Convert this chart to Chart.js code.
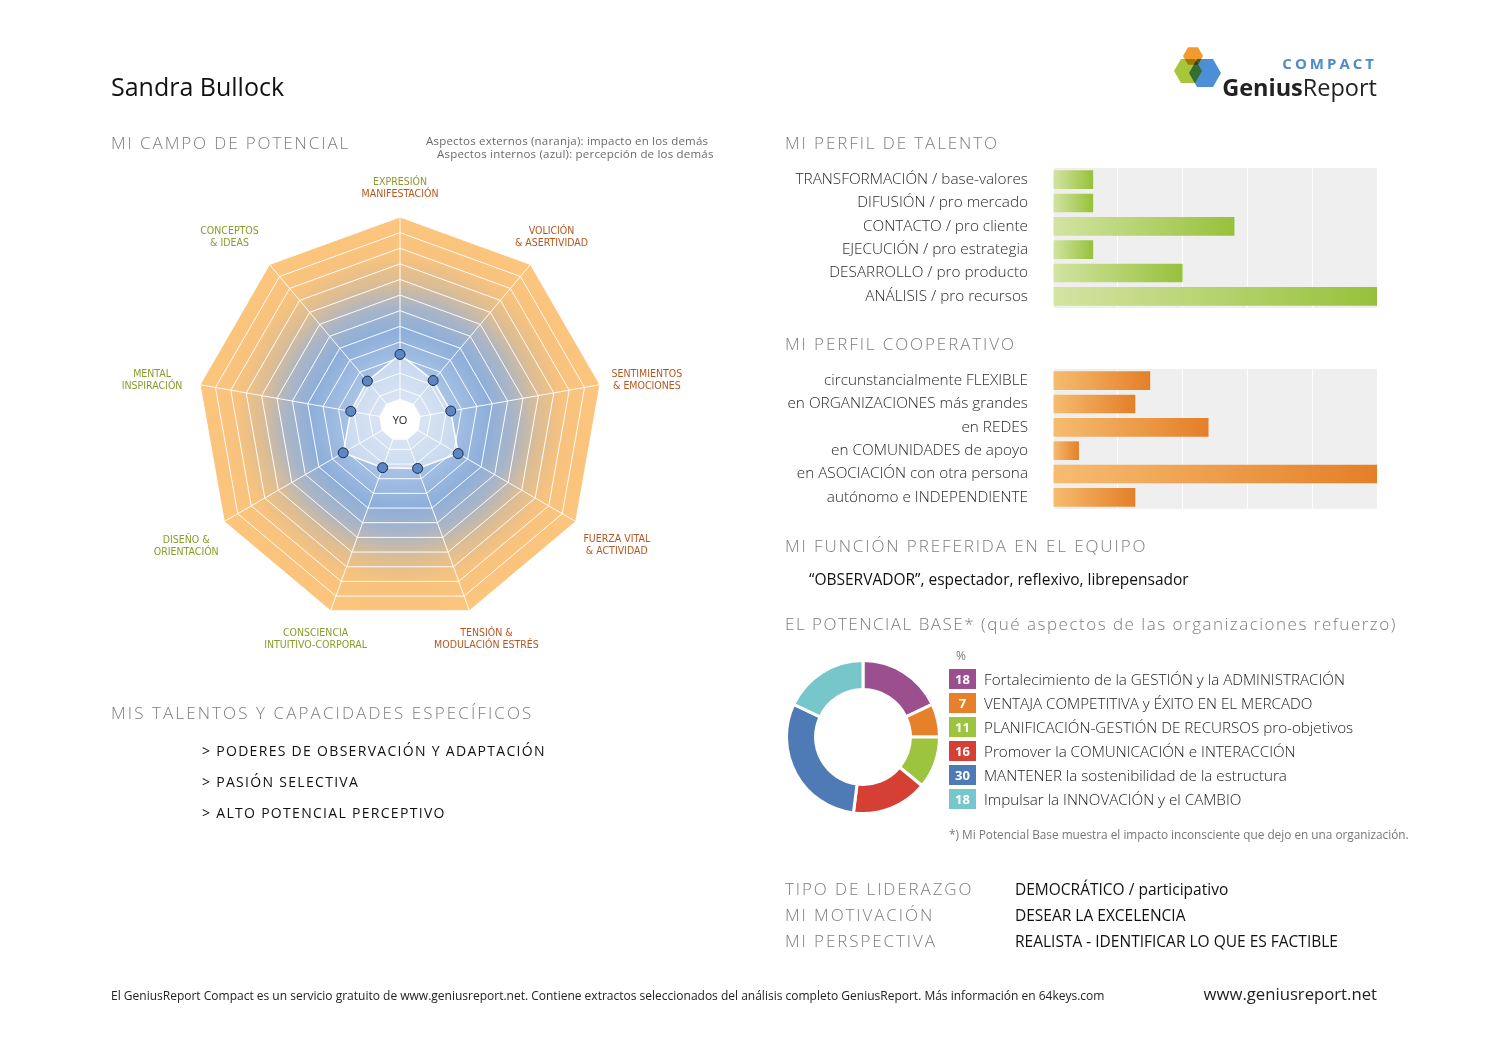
<!DOCTYPE html>
<html lang="es">
<head>
<meta charset="utf-8">
<title>GeniusReport Compact - Sandra Bullock</title>
<script src="https://cdn.jsdelivr.net/npm/chart.js@4.4.1/dist/chart.umd.min.js"></script>
<style>
  html, body { margin: 0; padding: 0; background: #fff; }
  body { width: 1497px; height: 1058px; position: relative; overflow: hidden; font-family: 'Open Sans', sans-serif; color: #222; }
  .abs { position: absolute; white-space: nowrap; }
  canvas { position: absolute; }
  .head { font-size: 17px; line-height: 20px; letter-spacing: 1.9px; color: #7d7d7d; font-weight: 300; }
  .note { font-size: 11.5px; line-height: 13px; color: #6a6a6a; letter-spacing: 0.2px; }
  .talent { font-size: 14px; line-height: 20px; letter-spacing: 1.3px; color: #111; left: 202px; }
  .value { font-size: 15.5px; line-height: 20px; color: #111; left: 1015px; }
  .legend-row { position: absolute; left: 949px; height: 20px; display: flex; align-items: center; }
  .legend-box { width: 27px; height: 20px; color: #fff; font-weight: 700; font-size: 13px; text-align: center; line-height: 20px; }
  .legend-text { margin-left: 8px; font-size: 15.2px; color: #222; font-weight: 300; white-space: nowrap; }
</style>
</head>
<body>

<!-- header -->
<div class="abs" style="left:111px; top:71px; font-size:25px; line-height:30px; color:#111;">Sandra Bullock</div>
<svg class="abs" style="left:1170px; top:42px;" width="56" height="52" viewBox="0 0 56 52">
  <g style="isolation:isolate">
    <polygon points="33,14 28,22.7 18,22.7 13,14 18,5.3 28,5.3" fill="#f29a2e" style="mix-blend-mode:multiply"/>
    <polygon points="32,29 25,41.1 11,41.1 4,29 11,16.9 25,16.9" fill="#a8c63a" style="mix-blend-mode:multiply"/>
    <polygon points="51,31 43,44.9 27,44.9 19,31 27,17.1 43,17.1" fill="#4d8fd7" style="mix-blend-mode:multiply"/>
  </g>
</svg>
<div class="abs" style="right:120px; top:54px; font-size:15px; line-height:18px; font-weight:700; letter-spacing:3px; color:#4f8ac9;">COMPACT</div>
<div class="abs" style="right:120px; top:73px; font-size:23.5px; line-height:28px; color:#222;"><b>Genius</b>Report</div>

<!-- left column -->
<div class="abs head" style="left:111px; top:133px;">MI CAMPO DE POTENCIAL</div>
<div class="abs note" style="left:426px; top:134px;">Aspectos externos (naranja): impacto en los demás</div>
<div class="abs note" style="left:437px; top:147px;">Aspectos internos (azul): percepción de los demás</div>
<canvas id="chart-radar" width="640" height="520" style="left:80px; top:160px;"></canvas>

<div class="abs head" style="left:111px; top:703px; letter-spacing:2.1px;">MIS TALENTOS Y CAPACIDADES ESPECÍFICOS</div>
<div class="abs talent" style="top:741px;">&gt; PODERES DE OBSERVACIÓN Y ADAPTACIÓN</div>
<div class="abs talent" style="top:772px;">&gt; PASIÓN SELECTIVA</div>
<div class="abs talent" style="top:803px;">&gt; ALTO POTENCIAL PERCEPTIVO</div>

<!-- right column -->
<div class="abs head" style="left:785px; top:133px;">MI PERFIL DE TALENTO</div>
<canvas id="chart-talent" width="597" height="140" style="left:780px; top:168px;"></canvas>

<div class="abs head" style="left:785px; top:334px;">MI PERFIL COOPERATIVO</div>
<canvas id="chart-coop" width="597" height="140" style="left:780px; top:369px;"></canvas>

<div class="abs head" style="left:785px; top:536px;">MI FUNCIÓN PREFERIDA EN EL EQUIPO</div>
<div class="abs" style="left:809px; top:569px; font-size:15.5px; line-height:20px; color:#111;">“OBSERVADOR”, espectador, reflexivo, librepensador</div>

<div class="abs head" style="left:785px; top:614px; letter-spacing:1.5px;">EL POTENCIAL BASE* (qué aspectos de las organizaciones refuerzo)</div>
<canvas id="chart-base" width="156" height="156" style="left:785px; top:659px;"></canvas>
<div class="abs" style="left:956px; top:648px; font-size:12px; line-height:16px; color:#777;">%</div>
<div id="base-legend"></div>
<div class="abs" style="left:949px; top:827px; font-size:11.8px; line-height:14px; color:#777;">*) Mi Potencial Base muestra el impacto inconsciente que dejo en una organización.</div>

<div class="abs head" style="left:785px; top:879px;">TIPO DE LIDERAZGO</div>
<div class="abs value" style="top:879px;">DEMOCRÁTICO / participativo</div>
<div class="abs head" style="left:785px; top:905px;">MI MOTIVACIÓN</div>
<div class="abs value" style="top:905px;">DESEAR LA EXCELENCIA</div>
<div class="abs head" style="left:785px; top:931px;">MI PERSPECTIVA</div>
<div class="abs value" style="top:931px;">REALISTA - IDENTIFICAR LO QUE ES FACTIBLE</div>

<!-- footer -->
<div class="abs" style="left:111px; top:989px; font-size:12px; line-height:14px; color:#222;">El GeniusReport Compact es un servicio gratuito de www.geniusreport.net. Contiene extractos seleccionados del análisis completo GeniusReport. Más información en 64keys.com</div>
<div class="abs" style="right:120px; top:984px; font-size:16.7px; line-height:20px; color:#222;">www.geniusreport.net</div>

<script>
// ===== data =====
const radarAxes = [
  ['EXPRESIÓN', 'MANIFESTACIÓN'],
  ['VOLICIÓN', '& ASERTIVIDAD'],
  ['SENTIMIENTOS', '& EMOCIONES'],
  ['FUERZA VITAL', '& ACTIVIDAD'],
  ['TENSIÓN &', 'MODULACIÓN ESTRÉS'],
  ['CONSCIENCIA', 'INTUITIVO-CORPORAL'],
  ['DISEÑO &', 'ORIENTACIÓN'],
  ['MENTAL', 'INSPIRACIÓN'],
  ['CONCEPTOS', '& IDEAS']
];
const radarValues = [4.2, 3.3, 3.3, 4.3, 3.3, 3.25, 4.2, 3.2, 3.25];
const radarCore = [1.35, 1.35, 1.35, 1.35, 1.35, 1.35, 1.35, 1.35, 1.35];
const radarMax = 13;

const talentLabels = ['TRANSFORMACIÓN / base-valores', 'DIFUSIÓN / pro mercado', 'CONTACTO / pro cliente',
  'EJECUCIÓN / pro estrategia', 'DESARROLLO / pro producto', 'ANÁLISIS / pro recursos'];
const talentValues = [0.62, 0.62, 2.8, 0.62, 2.0, 5.0];

const coopLabels = ['circunstancialmente FLEXIBLE', 'en ORGANIZACIONES más grandes', 'en REDES',
  'en COMUNIDADES de apoyo', 'en ASOCIACIÓN con otra persona', 'autónomo e INDEPENDIENTE'];
const coopValues = [1.5, 1.27, 2.4, 0.4, 5.0, 1.27];

const baseLabels = ['Fortalecimiento de la GESTIÓN y la ADMINISTRACIÓN', 'VENTAJA COMPETITIVA y ÉXITO EN EL MERCADO',
  'PLANIFICACIÓN-GESTIÓN DE RECURSOS pro-objetivos', 'Promover la COMUNICACIÓN e INTERACCIÓN',
  'MANTENER la sostenibilidad de la estructura', 'Impulsar la INNOVACIÓN y el CAMBIO'];
const baseValues = [18, 7, 11, 16, 30, 18];

// ===== styles =====
const GREEN_TXT = '#8a9a2b';
const BROWN_TXT = '#b4571f';
const labelColors = [
  [GREEN_TXT, BROWN_TXT], [BROWN_TXT, BROWN_TXT], [BROWN_TXT, BROWN_TXT], [BROWN_TXT, BROWN_TXT],
  [BROWN_TXT, BROWN_TXT], [GREEN_TXT, GREEN_TXT], [GREEN_TXT, GREEN_TXT], [GREEN_TXT, GREEN_TXT], [GREEN_TXT, GREEN_TXT]
];
// label offset from each outer vertex, px
const labelShift = [[0, -29], [21, -27], [47, -4], [41, 24], [17, 29], [-15, 29], [-38, 25], [-48, -4], [-40, -27]];
const baseColors = ['#9b4f8e', '#e6802a', '#9cc43e', '#d63f34', '#4e7bb5', '#77c6c9'];
const LABEL_FONT = "10.5px 'Liberation Sans Narrow', 'DejaVu Sans Condensed', 'Open Sans', sans-serif";

// ===== Radar =====
const radarBackdrop = {
  id: 'radarBackdrop',
  beforeDraw(chart) {
    const r = chart.scales.r;
    const ctx = chart.ctx;
    const g = ctx.createRadialGradient(r.xCenter, r.yCenter, 0, r.xCenter, r.yCenter, r.drawingArea);
    g.addColorStop(0, '#cbdaef');
    g.addColorStop(0.28, '#a3bfe4');
    g.addColorStop(0.44, '#8eafda');
    g.addColorStop(0.56, '#a9b5c7');
    g.addColorStop(0.68, '#dbbd95');
    g.addColorStop(0.8, '#f7c27e');
    g.addColorStop(1, '#fdc67d');
    ctx.save();
    ctx.beginPath();
    chart.data.labels.forEach((l, i) => {
      const p = r.getPointPositionForValue(i, r.max);
      if (i === 0) ctx.moveTo(p.x, p.y); else ctx.lineTo(p.x, p.y);
    });
    ctx.closePath();
    ctx.fillStyle = g;
    ctx.fill();
    ctx.restore();
  },
  afterDraw(chart) {
    const r = chart.scales.r;
    const ctx = chart.ctx;
    ctx.save();
    ctx.textAlign = 'center';
    ctx.textBaseline = 'middle';
    ctx.font = LABEL_FONT;
    chart.data.labels.forEach((lines, i) => {
      const p = r.getPointPositionForValue(i, r.max);
      const x = p.x + labelShift[i][0];
      const y = p.y + labelShift[i][1];
      lines.forEach((line, j) => {
        ctx.fillStyle = labelColors[i][j];
        ctx.fillText(line, x, y + (j - (lines.length - 1) / 2) * 12);
      });
    });
    ctx.fillStyle = '#222';
    ctx.font = "11px 'Open Sans', sans-serif";
    ctx.fillText('YO', r.xCenter, r.yCenter + 1);
    ctx.restore();
  }
};

new Chart(document.getElementById('chart-radar'), {
  type: 'radar',
  data: {
    labels: radarAxes,
    datasets: [{
      data: radarValues,
      order: 0,
      borderColor: 'rgba(255,255,255,0.95)',
      borderWidth: 1.5,
      backgroundColor: 'rgba(255,255,255,0.42)',
      fill: true,
      pointRadius: 5,
      pointBackgroundColor: '#5b87c5',
      pointBorderColor: '#1c2a44',
      pointBorderWidth: 1
    }, {
      data: radarCore,
      order: 1,
      borderWidth: 0,
      backgroundColor: '#ffffff',
      fill: true,
      pointRadius: 0
    }]
  },
  options: {
    responsive: false,
    animation: false,
    layout: { padding: { top: 57, bottom: 57, left: 117, right: 117 } },
    elements: { line: { tension: 0 } },
    plugins: { legend: { display: false }, tooltip: { enabled: false } },
    scales: {
      r: {
        min: 0,
        max: radarMax,
        ticks: { stepSize: 1, display: false },
        grid: { color: 'rgba(255,255,255,0.95)', lineWidth: 1 },
        angleLines: { color: 'rgba(255,255,255,0.95)', lineWidth: 1 },
        pointLabels: { display: false }
      }
    }
  },
  plugins: [radarBackdrop]
});

// ===== horizontal bar profiles =====
const plotBackdrop = {
  id: 'plotBackdrop',
  beforeDraw(chart) {
    const a = chart.chartArea;
    chart.ctx.save();
    chart.ctx.fillStyle = '#efefef';
    chart.ctx.fillRect(a.left, a.top, a.right - a.left, a.bottom - a.top);
    chart.ctx.restore();
  }
};

function makeProfile(id, labels, values, from, to) {
  return new Chart(document.getElementById(id), {
    type: 'bar',
    data: {
      labels: labels,
      datasets: [{
        data: values,
        barPercentage: 0.8,
        categoryPercentage: 1,
        backgroundColor: (ctx) => {
          const chart = ctx.chart;
          const x = chart.scales.x;
          if (!chart.chartArea || !x || ctx.raw == null) return to;
          const g = chart.ctx.createLinearGradient(x.getPixelForValue(0), 0, x.getPixelForValue(ctx.raw), 0);
          g.addColorStop(0, from);
          g.addColorStop(1, to);
          return g;
        }
      }]
    },
    options: {
      indexAxis: 'y',
      responsive: false,
      animation: false,
      layout: { padding: 0 },
      plugins: { legend: { display: false }, tooltip: { enabled: false } },
      scales: {
        x: {
          min: 0,
          max: 5,
          afterFit: (scale) => { scale.height = 0; },
          ticks: { stepSize: 1, display: false },
          grid: { color: '#ffffff', lineWidth: 1, drawTicks: false },
          border: { display: false }
        },
        y: {
          afterFit: (scale) => {
            scale.width = 273;
            scale.paddingTop = 0;
            scale.paddingBottom = 0;
          },
          grid: { display: false, drawTicks: false },
          border: { display: false },
          ticks: { color: '#2a2a2a', padding: 25, font: { family: 'Open Sans', size: 15.3, weight: '300' } }
        }
      }
    },
    plugins: [plotBackdrop]
  });
}

makeProfile('chart-talent', talentLabels, talentValues, '#d3e4a3', '#97c13b');
makeProfile('chart-coop', coopLabels, coopValues, '#f6bc70', '#e47f28');

// ===== potencial base donut =====
new Chart(document.getElementById('chart-base'), {
  type: 'doughnut',
  data: {
    labels: baseLabels,
    datasets: [{
      data: baseValues,
      backgroundColor: baseColors,
      borderColor: '#ffffff',
      borderWidth: 3
    }]
  },
  options: {
    responsive: false,
    animation: false,
    cutout: '62%',
    plugins: { legend: { display: false }, tooltip: { enabled: false } }
  }
});

const legendHost = document.getElementById('base-legend');
baseLabels.forEach((label, i) => {
  const row = document.createElement('div');
  row.className = 'legend-row';
  row.style.top = (669 + i * 24) + 'px';
  const box = document.createElement('div');
  box.className = 'legend-box';
  box.style.background = baseColors[i];
  box.textContent = baseValues[i];
  const txt = document.createElement('div');
  txt.className = 'legend-text';
  txt.textContent = label;
  row.appendChild(box);
  row.appendChild(txt);
  legendHost.appendChild(row);
});
</script>
</body>
</html>
